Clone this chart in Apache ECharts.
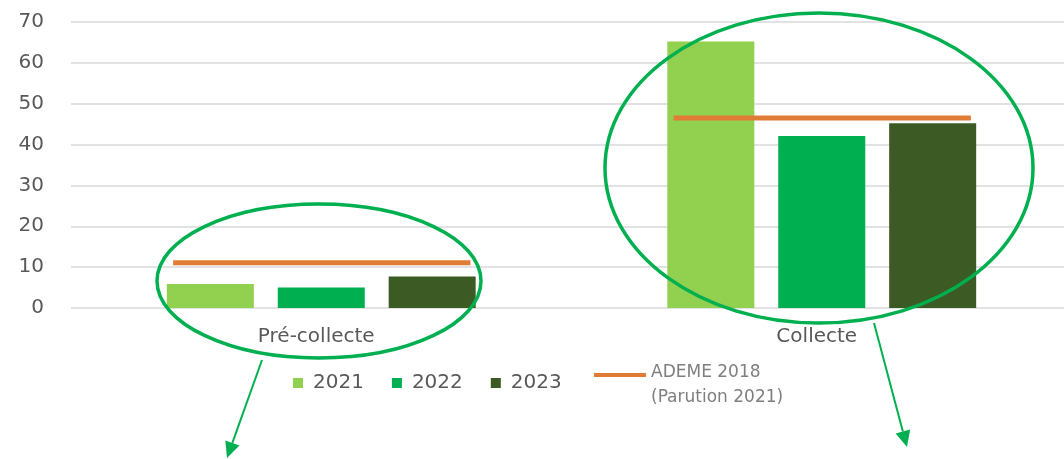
<!DOCTYPE html>
<html>
<head>
<meta charset="utf-8">
<script src="https://cdn.jsdelivr.net/npm/echarts@6/dist/echarts.min.js"></script>
<style>
  html, body { margin: 0; padding: 0; background: #ffffff; }
  #chart { width: 1064px; height: 459px; }
</style>
</head>
<body>
<div id="chart"></div>
<script>
// ---- data ----
const categories = ['Pré-collecte', 'Collecte'];
const years = ['2021', '2022', '2023'];
const values2021 = [5.9, 65.2];
const values2022 = [5.0, 42.1];
const values2023 = [7.7, 45.2];
const ademeValues = [11.1, 46.5];
const ademeName = 'ADEME 2018';
const ademeSubtitle = '(Parution 2021)';
const yTicks = [0, 10, 20, 30, 40, 50, 60, 70];

// ---- styles ----
const barColors = ['#92D050', '#00B050', '#3C5A24'];
const ademeColor = '#E07C35';
const annotColor = '#00B050';
const textColor = '#595959';
const font = 'DejaVu Sans';

const chart = echarts.init(document.getElementById('chart'), null, { renderer: 'canvas' });

const barValues = [values2021, values2022, values2023];
const barSeries = years.map((y, i) => ({
  name: y,
  type: 'bar',
  data: barValues[i],
  barWidth: 87,
  barGap: '27.5%',
  itemStyle: { color: barColors[i] },
  z: 2
}));

function arrow(start, tip) {
  const dx = tip[0] - start[0], dy = tip[1] - start[1];
  const len = Math.sqrt(dx * dx + dy * dy);
  const ux = dx / len, uy = dy / len;
  const hl = 16, hw = 7.5;
  const bx = tip[0] - ux * hl, by = tip[1] - uy * hl;
  const px = -uy * hw, py = ux * hw;
  return [
    { type: 'line', z: 100, shape: { x1: start[0], y1: start[1], x2: bx, y2: by },
      style: { stroke: annotColor, lineWidth: 2 } },
    { type: 'polygon', z: 100, shape: { points: [[tip[0], tip[1]], [bx + px, by + py], [bx - px, by - py]] },
      style: { fill: annotColor } }
  ];
}

const option = {
  backgroundColor: '#ffffff',
  animation: false,
  grid: { left: 71, top: 22, width: 1001, height: 286, containLabel: false, outerBoundsMode: 'none' },
  xAxis: {
    type: 'category',
    data: categories,
    axisLine: { show: false },
    axisTick: { show: false },
    axisLabel: { color: textColor, fontFamily: font, fontSize: 20, margin: 19, padding: [0, 10, 0, 0] }
  },
  yAxis: {
    type: 'value',
    min: yTicks[0],
    max: yTicks[yTicks.length - 1],
    interval: 10,
    axisLine: { show: false },
    axisTick: { show: false },
    axisLabel: { color: textColor, fontFamily: font, fontSize: 20, margin: 27 },
    splitLine: { lineStyle: { color: '#D9D9D9', width: 1.5 } }
  },
  legend: [
    {
      data: years,
      left: 293,
      top: 373,
      padding: 0,
      icon: 'rect',
      itemWidth: 10,
      itemHeight: 10,
      itemGap: 28,
      textStyle: { color: textColor, fontFamily: font, fontSize: 20, padding: [0, 0, 0, 5] }
    },
    {
      data: [{ name: ademeName, icon: 'path://M0,0 H52 V4 H0 Z M0,24 H0.05 V24.05 H0 Z' }],
      left: 594,
      top: 360,
      padding: 0,
      itemWidth: 52,
      itemHeight: 24.05,
      formatter: () => ademeName + '\n' + ademeSubtitle,
      textStyle: { color: '#7F7F7F', fontFamily: font, fontSize: 17, lineHeight: 25 }
    }
  ],
  series: [
    ...barSeries,
    {
      name: ademeName,
      type: 'custom',
      data: ademeValues.map((v, i) => [i, v]),
      encode: { x: 0, y: 1 },
      itemStyle: { color: ademeColor },
      z: 5,
      renderItem: function (params, api) {
        const p = api.coord([api.value(0), api.value(1)]);
        const bw = api.size([1, 0])[0];
        return {
          type: 'line',
          shape: { x1: p[0] - bw * 0.296, y1: p[1], x2: p[0] + bw * 0.298, y2: p[1] },
          style: { stroke: ademeColor, lineWidth: 5 }
        };
      }
    }
  ],
  graphic: [
    { type: 'ellipse', z: 100, shape: { cx: 319, cy: 281, rx: 162, ry: 77 },
      style: { fill: null, stroke: annotColor, lineWidth: 3.5 } },
    { type: 'ellipse', z: 100, shape: { cx: 819, cy: 168, rx: 214, ry: 155 },
      style: { fill: null, stroke: annotColor, lineWidth: 3.5 } },
    ...arrow([262, 360], [227, 458]),
    ...arrow([874, 323], [907, 447])
  ]
};

chart.setOption(option);
</script>
</body>
</html>
